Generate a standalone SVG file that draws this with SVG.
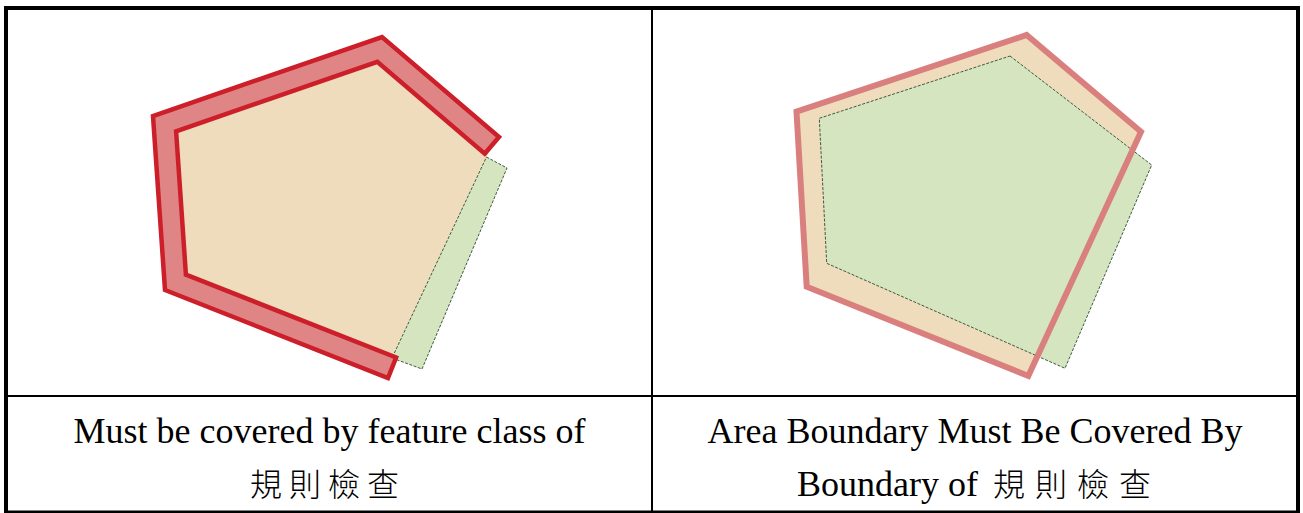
<svg xmlns="http://www.w3.org/2000/svg" width="1303" height="513" viewBox="0 0 1303 513">
  <style>
    .grid { stroke: #000; fill: none; }
    .tan { fill: #efdcbd; }
    .green { fill: #d4e5bf; stroke: #3e5a40; stroke-width: 1; stroke-dasharray: 3 1.5; }
    .band { fill: #df8585; stroke: #cc1f2a; stroke-width: 4.5; stroke-linejoin: miter; }
    .pink { fill: none; stroke: #d9807f; stroke-width: 6; stroke-linejoin: miter; }
    .cap { font-family: "Liberation Serif", "Noto Sans CJK TC", serif; font-size: 36px; fill: #000; }
    .mid { text-anchor: middle; }
    .cjk { font-family: "Noto Sans CJK TC", serif; font-size: 32px; font-weight: 300; fill: #000; }
  </style>
  <rect x="0" y="0" width="1303" height="513" fill="#fff"/>

  <g id="table">
    <line class="grid" x1="4" y1="8" x2="1300" y2="8" stroke-width="4"/>
    <line class="grid" x1="6" y1="6" x2="6" y2="513" stroke-width="4"/>
    <line class="grid" x1="1298" y1="6" x2="1298" y2="513" stroke-width="4"/>
    <line class="grid" x1="4" y1="512" x2="1300" y2="512" stroke-width="3"/>
    <line class="grid" x1="652" y1="8" x2="652" y2="513" stroke-width="2"/>
    <line class="grid" x1="6" y1="396" x2="1298" y2="396" stroke-width="2"/>
  </g>

  <g id="panel-left">
    <polygon class="tan" points="382,37 497,135 383,377 165,290 153,116"/>
    <polygon class="green" points="486.5,157 507,168 422,369 392,358"/>
    <polygon class="band" points="484.7,153.7 499,137 382,37 153,116 165,290 388,378 396.1,357.5 185.9,274.6 176.1,131.3 377.3,61.9"/>
  </g>

  <g id="panel-right">
    <polygon class="tan" points="1026.7,35 1141,131.7 1028.3,376 806.7,286.7 796.5,111.7"/>
    <polygon class="green" points="1010,56 1151.7,165 1065,368.3 826.7,263.3 819.3,118.3"/>
    <polygon class="pink" points="1026.7,35 1141,131.7 1028.3,376 806.7,286.7 796.5,111.7"/>
  </g>

  <g id="caption-left">
    <text class="cap mid" x="329.5" y="443">Must be covered by feature class of</text>
    <text class="cjk" x="250" y="496" letter-spacing="7">規則檢查</text>
  </g>

  <g id="caption-right">
    <text class="cap mid" x="975" y="443">Area Boundary Must Be Covered By</text>
    <text class="cap" x="797" y="496">Boundary of</text>
    <text class="cjk" x="993" y="496" letter-spacing="10">規則檢查</text>
  </g>
</svg>
